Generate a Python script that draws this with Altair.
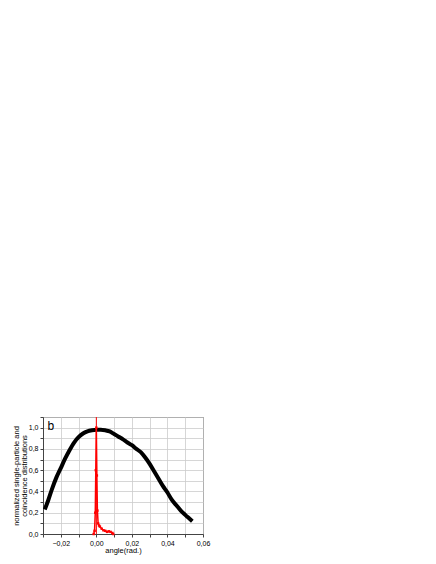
import altair as alt
import pandas as pd

# single-particle distribution (black)
single_x = [-0.029, -0.027, -0.025, -0.0225, -0.02, -0.0175, -0.015, -0.0125, -0.01, -0.0075,
            -0.005, -0.0025, 0.0, 0.0025, 0.005, 0.0075, 0.01, 0.0125, 0.015, 0.0175, 0.02,
            0.0225, 0.025, 0.0275, 0.03, 0.0325, 0.035, 0.0375, 0.04, 0.0425, 0.045, 0.0475,
            0.05, 0.052, 0.054]
single_y = [0.23, 0.32, 0.42, 0.53, 0.62, 0.71, 0.79, 0.86, 0.91, 0.945,
            0.965, 0.975, 0.98, 0.98, 0.975, 0.965, 0.94, 0.915, 0.89, 0.86, 0.835,
            0.80, 0.77, 0.72, 0.66, 0.59, 0.52, 0.45, 0.39, 0.32, 0.27, 0.22,
            0.18, 0.15, 0.12]

# coincidence distribution (red)
coinc_x = [-0.0015, -0.001, -0.0006, -0.0003, 0.0, 0.0003, 0.0006, 0.001, 0.0015, 0.002,
           0.003, 0.004, 0.005, 0.006, 0.007, 0.008, 0.009, 0.0095]
coinc_y = [0.0, 0.03, 0.2, 0.6, 1.0, 0.55, 0.22, 0.1, 0.08, 0.07,
           0.05, 0.035, 0.03, 0.02, 0.025, 0.02, 0.01, 0.0]

x_ticks = [-0.03, -0.02, -0.01, 0.0, 0.01, 0.02, 0.03, 0.04, 0.05, 0.06]
y_ticks = [0.0, 0.1, 0.2, 0.3, 0.4, 0.5, 0.6, 0.7, 0.8, 0.9, 1.0, 1.1]

single = pd.DataFrame({"x": single_x, "y": single_y})
coinc = pd.DataFrame({"x": coinc_x, "y": coinc_y})

font = "Liberation Sans"

common = dict(labelFontSize=7, titleFontSize=7.5, titleFontWeight="normal",
              labelFont=font, titleFont=font, labelPadding=2, tickCount=40,
              tickSize=3, tickColor="#444", domainColor="#444",
              gridColor="#cccccc", gridWidth=0.8, labelColor="#000", titleColor="#000",
              labelOverlap=False, labelBound=False, labelFlush=False)

xenc = alt.X("x:Q", scale=alt.Scale(domain=[-0.03, 0.06], nice=False, zero=False),
             axis=alt.Axis(values=x_ticks, title="angle(rad.)", titlePadding=0,
                           labelExpr="round(datum.value*100) % 2 == 0 && datum.value > -0.025 ? replace(format(datum.value, '.2f'), '.', ',') : ''",
                           **common))
yenc = alt.Y("y:Q", scale=alt.Scale(domain=[0, 1.1], nice=False),
             axis=alt.Axis(values=y_ticks, titlePadding=0, titleLineHeight=8,
                           title=["normalized single-particle and", "coincidence distributions"],
                           labelExpr="round(datum.value*10) % 2 == 0 ? replace(format(datum.value, '.1f'), '.', ',') : ''",
                           **common))

black = alt.Chart(single).mark_line(color="black", strokeWidth=4, interpolate="monotone").encode(x=xenc, y=yenc)
red = alt.Chart(coinc).mark_line(color="#ff0000", strokeWidth=1.5,
                                 point=alt.OverlayMarkDef(shape="square", size=6, color="#ff0000")).encode(x="x:Q", y="y:Q")
rule = alt.Chart(pd.DataFrame({"x": [0.0]})).mark_rule(color="#ff0000", strokeWidth=1).encode(x="x:Q")
label = alt.Chart(pd.DataFrame({"x": [-0.0275], "y": [1.02], "t": ["b"]})).mark_text(
    text="b", fontSize=12, font=font, align="left", baseline="middle", color="black").encode(x="x:Q", y="y:Q")

chart = alt.layer(black, rule, red, label).properties(
    width=160, height=117, autosize="none",
    padding={"left": 35, "top": 409, "right": 20, "bottom": 25}
).configure_view(stroke="#444", strokeWidth=1)

chart.save("out.html", embed_options={"renderer": "svg", "actions": False})
